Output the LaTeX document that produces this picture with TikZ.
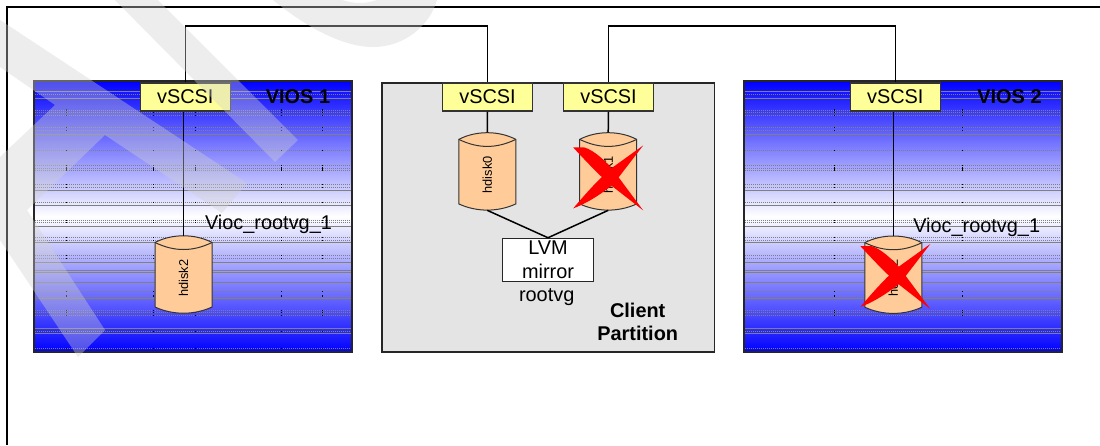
\documentclass[tikz,border=0pt]{standalone}
\usepackage{fontspec}
\setmainfont{Liberation Sans}
\newcommand{\bigfont}{\fontsize{19.9}{23.3}\selectfont}
\newcommand{\smallfont}{\fontsize{12.8}{15}\selectfont}
\definecolor{vyellow}{HTML}{FFFF99}
\definecolor{diskfill}{HTML}{FFCC99}
\definecolor{clientgray}{HTML}{E4E4E4}
\definecolor{stripe}{HTML}{808080}
\definecolor{wm}{RGB}{208,208,208}
\tikzset{
  vscsi/.style={draw=black!80,line width=1.1pt,fill=vyellow,minimum width=90.5pt,minimum height=28pt,inner sep=0pt,font=\bigfont},
  wire/.style={draw=black,line width=1.5pt},
  panel/.style={draw=black!85,line width=1.4pt},
  lbl/.style={font=\bigfont,inner sep=0pt},
  disklabel/.style={font=\smallfont,inner sep=0pt},
  diskbody/.style={draw=black!80,line width=1pt,fill=diskfill},
  diskbox/.style={minimum width=57pt,minimum height=77.5pt,inner sep=0pt},
  solidstripe/.style={stripe,line width=0.9pt},
  dotstripe/.style={stripe,line width=0.75pt,dash pattern=on 1pt off 1pt},
  tick/.style={black,line width=0.5pt},
  redx/.style={fill=red,draw=none},
  watermark/.style={fill=wm,fill opacity=0.38,draw=none}
}
% stripes of a VIOS panel
\newcommand{\viosstripes}[3]{% left, right, tick positions
  \foreach \yy in {91.5,98.7,134.5,190.5,205.5,226.7,242.5,262.5,270.5,272.5,282.5,298.5,328.5,333.5}
    \draw[solidstripe] (#1+1,\yy) -- (#2-1,\yy);
  \foreach \yy in {94.7,110,112.5,115.5,127.5,130.7,150.5,165.5,168,170,184.5,187.5,202.5,220.5,222.5,237.5,240.5,255.5,258.5,291.5,296,310.5,312.5,315.5,331.5,348.5}{
    \draw[dotstripe] (#1+1,\yy) -- (#2-1,\yy);
    \foreach \xx in {#3}
      \draw[tick] (\xx,\yy-0.7) -- (\xx,\yy+0.7);
  }
}
% disk: name, centre x, centre y, label
\newcommand{\diskshape}[4]{%
  \begin{scope}[shift={(#2,#3)}]
    \path[diskbody] (-28.5,-32) .. controls (-20,-36.5) and (-10,-38.7) .. (0,-38.7)
      .. controls (10,-38.7) and (20,-36.5) .. (28.5,-32)
      -- (28.5,32.5) .. controls (20,36.5) and (10,38.7) .. (0,38.7)
      .. controls (-10,38.7) and (-20,36.5) .. (-28.5,32.5) -- cycle;
    \draw[black!80,line width=1pt] (-28.5,-32) .. controls (-18,-27) and (-9,-25) .. (0,-25)
      .. controls (9,-25) and (18,-27) .. (28.5,-32);
  \end{scope}
  \node[diskbox] (#1) at (#2,#3) {};
  \node[disklabel] (#1l) at (#2,#3+3.5) {\rotatebox{90}{#4}};
}
% red cross centred on x,y
\newcommand{\redcross}[2]{%
  \begin{scope}[shift={(#1,#2)}]
    \fill[redx] (-35,-24) -- (-24,-24) .. controls (-14,-21) and (-5,-12) .. (3,-4)
      -- (35,39) -- (3,14) .. controls (-8,5) and (-24,-12) .. cycle;
    \fill[redx] (-35,37) .. controls (-24,33) and (-10,25) .. (5,13)
      -- (35,-26) -- (3,-3) .. controls (-10,8) and (-24,24) .. cycle;
  \end{scope}
}
\begin{document}
\begin{tikzpicture}[x=1pt,y=-1pt]
\useasboundingbox (0,0) rectangle (1100,445);
\fill[white] (0,0) rectangle (1100,445);
% page frame
\draw[black,line width=1.1pt] (7,445) -- (7,7) -- (1100,7);

% VIOS 1 panel
\shade[top color=blue,bottom color=blue,middle color=white] (34,81) rectangle (352,352);
\viosstripes{34}{352}{66,153.5,195,281,322}
\draw[panel] (34,81) rectangle (352,352);
% VIOS 2 panel
\shade[top color=blue,bottom color=blue,middle color=white] (744,81) rectangle (1062,352);
\viosstripes{744}{1062}{834,962}
\draw[panel] (744,81) rectangle (1062,352);
% Client panel
\draw[panel,fill=clientgray] (382,83) rectangle (714.5,352);

% interface boxes
\node[vscsi] (v1) at (185.3,97) {vSCSI};
\node[vscsi] (c1) at (487.5,97) {vSCSI};
\node[vscsi] (c2) at (608.5,97) {vSCSI};
\node[vscsi] (v2) at (895.3,97) {vSCSI};

% disks
\diskshape{d2}{183.5}{274.5}{hdisk2}
\diskshape{h0}{487.3}{171.4}{hdisk0}
\diskshape{h1}{608.2}{171.4}{hdisk1}
\diskshape{d3}{893.3}{274.7}{hdisk2}

% LVM box
\node[draw=black!85,line width=1.1pt,fill=white,minimum width=90.5pt,minimum height=43pt,inner sep=0pt,align=center,font=\bigfont] (lvm) at (548,259.8) {LVM\\mirror};

% connectors
\coordinate (topa) at (300,26);
\coordinate (topb) at (750,26);
\draw[wire] (v1.north) |- (topa) -| (c1.north);
\draw[wire] (c2.north) |- (topb) -| (v2.north);
\draw[wire] (v1.south -| d2.north) -- (d2.north);
\draw[wire] (c1.south) -- (h0.north);
\draw[wire] (c2.south) -- (h1.north);
\draw[wire] (v2.south -| d3.north) -- (d3.north);
\draw[wire] (h0.south) -- (lvm.north);
\draw[wire] (h1.south) -- (lvm.north);

% crosses
\redcross{608.2}{171.4}
\redcross{895.3}{270}

% labels
\node[lbl,font=\bigfont\bfseries,anchor=base] (t1) at (298,103.5) {VIOS 1};
\node[lbl,font=\bigfont\bfseries,anchor=base] (t2) at (1009.5,103.5) {VIOS 2};
\node[lbl,anchor=base] (r1) at (268.5,229) {Vioc\_rootvg\_1};
\node[lbl,anchor=base] (r2) at (976.7,232) {Vioc\_rootvg\_1};
\node[lbl,anchor=base] (rv) at (546.7,301.7) {rootvg};
\node[lbl,font=\bigfont\bfseries,align=center] (cp) at (637.7,322) {Client\\Partition};

% watermark
\fill[watermark] (0,20) -- (247,183) -- (222,213) -- (105,135) -- (27,210) -- (105,330) -- (78,357) -- (0,240) -- (0,157) -- (55,105) -- (0,67) -- cycle;
\fill[watermark] (115,0) -- (158,0) -- (298,140) -- (275,162) -- cycle;
\fill[watermark] (273,0) .. controls (310,30) and (345,47) .. (373,47) .. controls (405,47) and (430,25) .. (437,0) -- (377,0) .. controls (365,4) and (355,4) .. (342,0) -- cycle;
\end{tikzpicture}
\end{document}
